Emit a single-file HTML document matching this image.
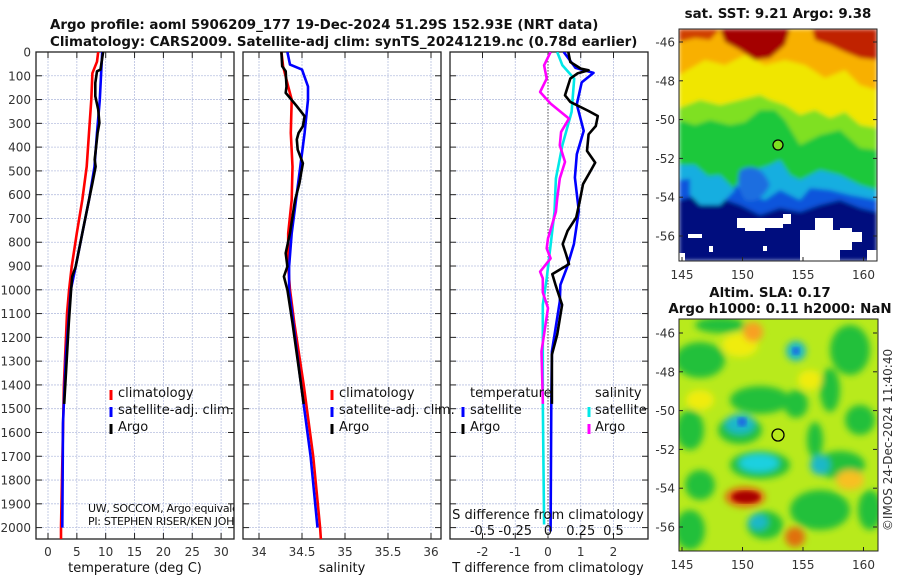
<!DOCTYPE html>
<html><head><meta charset="utf-8">
<style>
html,body{margin:0;padding:0;background:#fff;}
svg{display:block;font-family:"DejaVu Sans","Liberation Sans",sans-serif;}
.tk{font-size:12px;fill:#333;}
.tt{font-size:13.4px;font-weight:bold;fill:#111;}
.lg{font-size:13px;fill:#111;}
</style></head>
<body>
<svg id="fig" width="900" height="580" viewBox="0 0 900 580">
<defs>
<filter id="bl" x="-5%" y="-5%" width="110%" height="110%"><feGaussianBlur stdDeviation="2.2"/></filter>
<filter id="bl2" x="-20%" y="-20%" width="140%" height="140%"><feGaussianBlur stdDeviation="3.5"/></filter>
<clipPath id="c1"><rect x="36" y="52" width="198" height="487"/></clipPath>
<clipPath id="c2"><rect x="243" y="52" width="198" height="487"/></clipPath>
<clipPath id="c3"><rect x="450" y="52" width="198" height="487"/></clipPath>
<clipPath id="cm1"><rect x="679" y="29" width="198" height="232"/></clipPath>
<clipPath id="cm2"><rect x="679" y="319" width="199" height="232"/></clipPath>
</defs>
<text class="tt" x="50" y="29">Argo profile: aoml 5906209_177 19-Dec-2024 51.29S 152.93E (NRT data)</text>
<text class="tt" x="50" y="46">Climatology: CARS2009. Satellite-adj clim: synTS_20241219.nc (0.78d earlier)</text>

<!-- SST map -->
<g clip-path="url(#cm1)">
<g filter="url(#bl)">
<rect x="679" y="29" width="198" height="232" fill="#000e7e"/>
<path d="M679,29H877V212L860,208L840,200L820,205L800,212L780,208L760,215L740,205L720,198L700,195L679,200Z" fill="#0f55dc"/>
<path d="M679,29H877V200L850,195L830,190L810,188L800,200L780,190L765,200L750,195L735,185L715,180L695,178L679,180Z" fill="#19aee0"/>
<path d="M679,29H877V190L860,185L840,175L820,170L800,180L790,175L780,160L770,165L755,170L740,180L725,200L710,178L695,165L679,165Z" fill="#1cc83a"/>
<path d="M740,170Q760,160 770,185Q760,205 745,200Q735,185 740,170Z" fill="#1a6ee0"/>
<path d="M690,178L720,175L735,190L720,205L700,205L690,195Z" fill="#19aee0"/>
<path d="M679,29H877V150L860,148L840,130L820,135L800,145L785,120L775,110L760,110L745,122L730,125L710,120L695,125L679,120Z" fill="#7fe020"/>
<path d="M679,29H877V128L860,125L845,112L830,118L815,110L800,115L785,105L770,100L760,95L740,100L720,105L700,100L679,108Z" fill="#f0e600"/>
<path d="M679,29H877V90L860,85L845,70L825,78L805,65L785,60L765,65L745,55L725,65L705,60L679,75Z" fill="#f8b000"/>
<path d="M720,29H790L785,45L770,58L755,60L740,50L725,42Z" fill="#a40000"/>
<path d="M812,29H877V60L860,58L845,52L830,45L815,40Z" fill="#c02000"/>
<path d="M679,29H720L710,40L695,38L679,42Z" fill="#d04000"/>
</g>
<g fill="#fff">
<rect x="737" y="218" width="46" height="10"/><rect x="745" y="225" width="20" height="6"/>
<rect x="783" y="214" width="8" height="10"/>
<rect x="800" y="230" width="40" height="31"/><rect x="815" y="218" width="18" height="14"/>
<rect x="840" y="228" width="12" height="22"/><rect x="852" y="232" width="10" height="10"/>
<rect x="688" y="234" width="14" height="4"/><rect x="709" y="246" width="4" height="6"/>
<rect x="679" y="253" width="6" height="8"/><rect x="867" y="250" width="10" height="11"/>
<rect x="763" y="246" width="4" height="5"/>
</g>
</g>
<rect x="679" y="29" width="198" height="232" fill="none" stroke="#222" stroke-width="1"/>
<circle cx="778" cy="145" r="5" fill="#7fe020" stroke="#000" stroke-width="1.3"/>
<text class="tt" x="778" y="18" text-anchor="middle">sat. SST: 9.21 Argo: 9.38</text>
<g id="m1ax"></g>

<!-- SLA map -->
<g clip-path="url(#cm2)">
<rect x="679" y="319" width="199" height="232" fill="#b8ea1c"/>
<g filter="url(#bl2)">
<ellipse cx="700" cy="360" rx="25" ry="18" fill="#22c03a"/>
<ellipse cx="760" cy="400" rx="30" ry="14" fill="#22c03a"/>
<ellipse cx="850" cy="350" rx="20" ry="25" fill="#22c03a"/>
<ellipse cx="690" cy="430" rx="14" ry="20" fill="#22c03a"/>
<ellipse cx="740" cy="430" rx="22" ry="14" fill="#22c03a"/>
<ellipse cx="796" cy="404" rx="12" ry="14" fill="#22c03a"/>
<ellipse cx="815" cy="440" rx="8" ry="18" fill="#22c03a"/>
<ellipse cx="840" cy="465" rx="25" ry="14" fill="#22c03a"/>
<ellipse cx="760" cy="465" rx="30" ry="14" fill="#22c03a"/>
<ellipse cx="860" cy="420" rx="15" ry="15" fill="#22c03a"/>
<ellipse cx="700" cy="485" rx="15" ry="15" fill="#22c03a"/>
<ellipse cx="820" cy="510" rx="30" ry="20" fill="#22c03a"/>
<ellipse cx="690" cy="530" rx="15" ry="20" fill="#22c03a"/>
<ellipse cx="765" cy="525" rx="18" ry="14" fill="#22c03a"/>
<ellipse cx="870" cy="510" rx="12" ry="20" fill="#22c03a"/>
<ellipse cx="720" cy="325" rx="25" ry="8" fill="#22c03a"/>
<ellipse cx="830" cy="390" rx="10" ry="22" fill="#22c03a"/>
<ellipse cx="740" cy="345" rx="18" ry="12" fill="#f0ec10"/>
<ellipse cx="810" cy="380" rx="12" ry="10" fill="#f0ec10"/>
<ellipse cx="700" cy="400" rx="14" ry="10" fill="#f0ec10"/>
<ellipse cx="850" cy="480" rx="14" ry="10" fill="#f8c020"/>
<ellipse cx="753" cy="332" rx="10" ry="10" fill="#f8a020"/>
<ellipse cx="796" cy="351" rx="10" ry="10" fill="#1bb8c8"/>
<ellipse cx="740" cy="424" rx="15" ry="10" fill="#1bb8c8"/>
<ellipse cx="759" cy="463" rx="20" ry="9" fill="#1bd0e0"/>
<ellipse cx="820" cy="465" rx="10" ry="10" fill="#1bb8c8"/>
<ellipse cx="758" cy="522" rx="10" ry="8" fill="#1bb8c8"/>
<ellipse cx="745" cy="497" rx="20" ry="10" fill="#e06010"/>
<ellipse cx="795" cy="537" rx="10" ry="10" fill="#e07010"/>
</g>
<ellipse cx="746" cy="497" rx="14" ry="6" fill="#a80000" filter="url(#bl)"/>
<ellipse cx="742" cy="422" rx="5" ry="5" fill="#1a70e0" filter="url(#bl)"/>
<ellipse cx="796" cy="351" rx="4" ry="4" fill="#1a70e0" filter="url(#bl)"/>
</g>
<rect x="679" y="319" width="199" height="232" fill="none" stroke="#222" stroke-width="1"/>
<circle cx="778" cy="435" r="6" fill="none" stroke="#000" stroke-width="1.3"/>
<text class="tt" x="770" y="297" text-anchor="middle">Altim. SLA: 0.17</text>
<text class="tt" x="780" y="313" text-anchor="middle">Argo h1000: 0.11 h2000: NaN</text>
<text class="tk" transform="translate(892,440) rotate(-90)" text-anchor="middle">©IMOS 24-Dec-2024 11:40:40</text>
<g id="m2ax"></g>

<g id="panels"></g>
</svg>
<script>
// ---- data ----
const depthTicks = [0,100,200,300,400,500,600,700,800,900,1000,1100,1200,1300,1400,1500,1600,1700,1800,1900,2000];
const tempTicks = [0,5,10,15,20,25,30];
const salTicks = [34,34.5,35,35.5,36];
const tdiffTicks = [-2,-1,0,1,2];
const sdiffTicks = [-0.5,-0.25,0,0.25,0.5];
const sdiffTickLabels = ['-0.5','-0.25','0','0.25','0.5'];

const tClimDepth = [0,41,89,200,340,482,622,762,902,1000,1100,1400,2000,2050];
const tClimVal   = [8.7,8.5,7.7,7.5,7.1,6.7,5.95,5.0,4.1,3.66,3.3,2.75,2.26,2.26];
const tSatDepth = [0,200,340,482,622,762,902,1000,1280,1560,2000];
const tSatVal   = [9.4,8.97,8.5,8.06,7.1,5.95,4.8,3.95,3.1,2.6,2.48];
const tArgoDepth = [0,74,81,130,186,242,298,340,453,482,552,622,762,902,944,1000,1140,1480];
const tArgoVal   = [9.55,9.1,8.5,8.2,8.2,8.7,8.9,8.6,8.1,8.25,7.7,7.1,5.95,4.8,4.2,4.0,3.6,2.8];

const sClimDepth = [0,60,145,200,340,482,622,762,902,1000,1140,1400,1700,2000,2050];
const sClimVal   = [34.26,34.28,34.34,34.38,34.37,34.39,34.38,34.34,34.34,34.36,34.41,34.52,34.63,34.71,34.72];
const sSatDepth = [0,53,74,145,200,340,482,622,762,902,1000,1400,1700,2000];
const sSatVal   = [34.33,34.36,34.5,34.57,34.57,34.53,34.48,34.43,34.38,34.35,34.35,34.49,34.6,34.68];
const sArgoDepth = [0,60,81,145,172,193,228,270,312,340,368,411,468,510,552,622,692,762,846,902,944,986,1000,1140,1400,1480];
const sArgoVal   = [34.26,34.27,34.31,34.32,34.31,34.36,34.44,34.53,34.51,34.46,34.44,34.45,34.51,34.49,34.47,34.42,34.39,34.36,34.31,34.33,34.29,34.32,34.33,34.39,34.49,34.52];

const dTSatDepth = [0,67,88,128,220,332,430,528,668,808,906,979,1049,1259,1469,2016];
const dTSatVal   = [0.48,0.84,1.39,1.03,0.88,1.09,0.88,0.82,0.94,0.79,0.58,0.38,0.36,0.12,0.1,0.08];
const dTArgoDepth = [0,42,70,77,90,112,182,210,248,269,311,346,416,465,500,556,626,696,752,808,850,892,934,979,1063,1189,1273,1480];
const dTArgoVal   = [0.62,0.68,1.0,1.24,0.9,0.68,0.52,0.68,1.24,1.52,1.46,1.24,1.19,1.44,1.3,1.07,0.97,0.86,0.6,0.45,0.55,0.64,0.13,0.23,0.43,0.28,0.12,0.12];
const dSSatDepth = [0,56,112,252,392,532,672,812,952,1063,1469,1987];
const dSSatVal   = [0.07,0.11,0.2,0.18,0.11,0.06,0.05,0.02,-0.01,-0.04,-0.04,-0.03];
const dSArgoDepth = [0,56,112,168,217,280,336,392,462,532,616,672,784,826,868,924,952,1011,1077,1259,1469,1480];
const dSArgoVal   = [0.02,-0.03,-0.01,-0.06,0.02,0.16,0.1,0.09,0.13,0.09,0.07,0.06,0.0,-0.01,0.02,-0.06,-0.04,-0.04,0.0,-0.05,-0.04,-0.04];

const mapLatTicks = [-46,-48,-50,-52,-54,-56];
const mapLonTicks = [145,150,155,160];

// ---- scales ----
const Y0=52, Y1=539;
const yD = d => 52 + d*0.2378;
const xT = t => 48 + t*5.77;
const xS = s => 259 + (s-34)*86;
const xDT = t => 548 + t*32.75;
const xDS = s => 548 + s*131;

const NS='http://www.w3.org/2000/svg';
const root=document.getElementById('panels');
function mk(tag, attrs, parent){const e=document.createElementNS(NS,tag);for(const k in attrs)e.setAttribute(k,attrs[k]);(parent||root).appendChild(e);return e;}

function panel(x0,x1,clip,ticks,xf,labels,showY,name){
  const g=mk('g',{});
  
  
  depthTicks.forEach(d=>{
    const gl=mk('line',{x1:x0,x2:x1,y1:yD(d),y2:yD(d),stroke:'#b8c0e0','stroke-width':0.8,'stroke-dasharray':'2,1'},g);
    
    
    mk('line',{x1:x0,x2:x0+6,y1:yD(d),y2:yD(d),stroke:'#222','stroke-width':1},g);
    mk('line',{x1:x1-6,x2:x1,y1:yD(d),y2:yD(d),stroke:'#222','stroke-width':1},g);
    if(showY){const t=mk('text',{x:31,y:yD(d)+4.5,'text-anchor':'end',class:'tk'},g);t.textContent=d;
      
      }
  });
  ticks.forEach((v,i)=>{
    const x=xf(v);
    const gl=mk('line',{x1:x,x2:x,y1:Y0,y2:Y1,stroke:'#b8c0e0','stroke-width':0.8,'stroke-dasharray':'2,1'},g);
    
    
    mk('line',{x1:x,x2:x,y1:Y1-6,y2:Y1,stroke:'#222','stroke-width':1},g);
    mk('line',{x1:x,x2:x,y1:Y0,y2:Y0+6,stroke:'#222','stroke-width':1},g);
    const t=mk('text',{x:x,y:556,'text-anchor':'middle',class:'tk'},g);t.textContent=labels?labels[i]:v;
    
    
  });
  mk('rect',{x:x0,y:Y0,width:x1-x0,height:Y1-Y0,fill:'none',stroke:'#222','stroke-width':1.3},g);
  return g;
}
function line(ds,vs,xf,color,clip,name){
  const p=ds.map((d,i)=>(i?'L':'M')+xf(vs[i]).toFixed(1)+','+yD(d).toFixed(1)).join('');
  const e=mk('path',{d:p,fill:'none',stroke:color,'stroke-width':2.6,'stroke-linejoin':'round','clip-path':'url(#'+clip+')'});
  
  
}
function txt(x,y,s,cls,anchor,name){const t=mk('text',{x:x,y:y,class:cls,'text-anchor':anchor||'start'});t.textContent=s;
  
  return t;}
function marker(x,y,color){const r=mk('rect',{x:x-1.5,y:y-7,width:3,height:10,fill:color});
  
  }

panel(36,234,'c1',tempTicks,xT,null,true,'temperature-panel');
panel(243,441,'c2',salTicks,xS,null,false,'salinity-panel');
panel(450,648,'c3',tdiffTicks,xDT,null,false,'difference-panel');
const zl=mk('line',{x1:548,x2:548,y1:Y0,y2:Y1,stroke:'#555','stroke-width':1,'stroke-dasharray':'1.5,1.5'});



line(tClimDepth,tClimVal,xT,'#ff0000','c1','temp-climatology-line');
line(tSatDepth,tSatVal,xT,'#0000ff','c1','temp-satellite-line');
line(tArgoDepth,tArgoVal,xT,'#000000','c1','temp-argo-line');
line(sClimDepth,sClimVal,xS,'#ff0000','c2','sal-climatology-line');
line(sSatDepth,sSatVal,xS,'#0000ff','c2','sal-satellite-line');
line(sArgoDepth,sArgoVal,xS,'#000000','c2','sal-argo-line');
line(dSSatDepth,dSSatVal,xDS,'#00e8e8','c3','sdiff-satellite-line');
line(dSArgoDepth,dSArgoVal,xDS,'#ff00ff','c3','sdiff-argo-line');
line(dTSatDepth,dTSatVal,xDT,'#0000ff','c3','tdiff-satellite-line');
line(dTArgoDepth,dTArgoVal,xDT,'#000000','c3','tdiff-argo-line');

txt(135,572,'temperature (deg C)','tk lg','middle','temperature-axis-title');
txt(342,572,'salinity','tk lg','middle','salinity-axis-title');
txt(548,572,'T difference from climatology','tk lg','middle','tdiff-axis-title');
txt(548,519,'S difference from climatology','lg','middle','sdiff-axis-title');
sdiffTicks.forEach((v,i)=>{txt(xDS(v),535,sdiffTickLabels[i],'lg','middle','sdiff-tick-label');});

[[111,'climatology','#ff0000'],[111,'satellite-adj. clim.','#0000ff'],[111,'Argo','#000']].forEach((r,i)=>{
  marker(r[0],397+i*17,r[2]);txt(118,397+i*17,r[1],'lg','start','legend-entry');});
[[332,'climatology','#ff0000'],[332,'satellite-adj. clim.','#0000ff'],[332,'Argo','#000']].forEach((r,i)=>{
  marker(r[0],397+i*17,r[2]);txt(339,397+i*17,r[1],'lg','start','legend-entry');});
txt(470,397,'temperature','lg','start','legend-temperature-header');
txt(595,397,'salinity','lg','start','legend-salinity-header');
marker(463,414,'#0000ff');txt(470,414,'satellite','lg','start','legend-entry');
marker(463,431,'#000');txt(470,431,'Argo','lg','start','legend-entry');
marker(589,414,'#00e8e8');txt(595,414,'satellite','lg','start','legend-entry');
marker(589,431,'#ff00ff');txt(595,431,'Argo','lg','start','legend-entry');
const ft=mk('g',{'clip-path':'url(#c1)'});


[['UW, SOCCOM, Argo equivalent',512],['PI: STEPHEN RISER/KEN JOHNSON',525]].forEach(r=>{const t=mk('text',{x:88,y:r[1],style:'font-size:11px;fill:#111;letter-spacing:-0.3px'},ft);t.textContent=r[0];});

// map axes
function mapAx(id,top,lat0y){
  const g=document.getElementById(id);
  mapLatTicks.forEach(l=>{const y=lat0y+(-46-l)*19.4;
    mk('line',{x1:679,x2:683,y1:y,y2:y,stroke:'#222'},g);mk('line',{x1:873,x2:877,y1:y,y2:y,stroke:'#222'},g);
    const t=mk('text',{x:675,y:y+4.5,'text-anchor':'end',class:'tk'},g);t.textContent=l;
    
    });
  mapLonTicks.forEach(l=>{const x=682+(l-145)*12.1;
    mk('line',{x1:x,x2:x,y1:top+232-4,y2:top+232,stroke:'#222'},g);
    const t=mk('text',{x:x,y:top+250,'text-anchor':'middle',class:'tk'},g);t.textContent=l;
    
    });
}
mapAx('m1ax',29,42);
mapAx('m2ax',319,333);
</script>
</body></html>
